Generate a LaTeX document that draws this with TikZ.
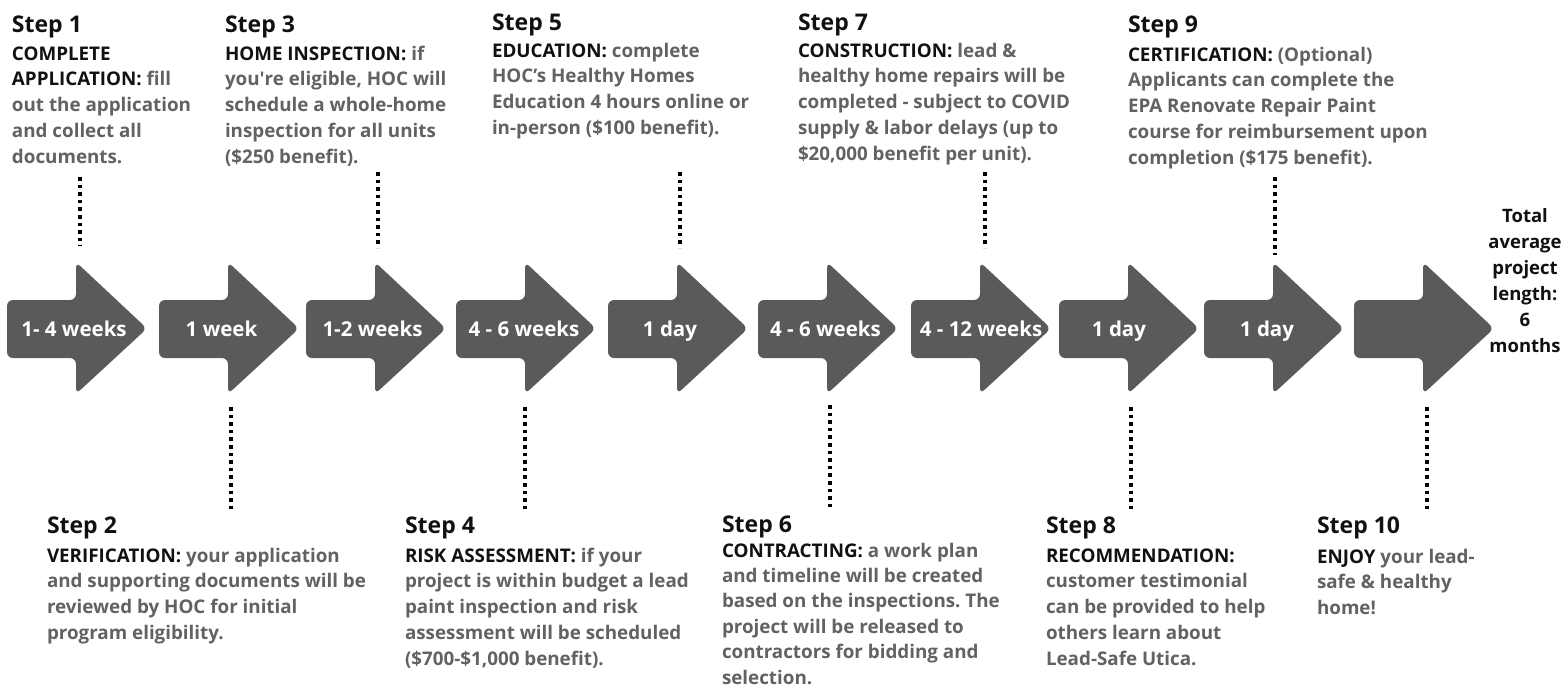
\documentclass[tikz,border=0pt]{standalone}
\usepackage{fontspec}
\setmainfont{Open Sans}
\definecolor{arrowgray}{HTML}{5A5A5A}
\definecolor{bodygray}{HTML}{626262}
\definecolor{headblack}{HTML}{111111}
\newcommand\hd[1]{\textcolor{headblack}{#1}}
\newcommand\stephead[1]{{\fontsize{23}{26}\selectfont\color{headblack}#1}}
\tikzset{
  steptext/.style={anchor=base west, inner sep=0pt, outer sep=0pt, text=bodygray,
    font=\bfseries\frenchspacing\fontsize{18.8}{25.9}\selectfont},
  arrowlabel/.style={anchor=base, inner sep=0pt, text=white,
    font=\bfseries\fontsize{20.5}{24}\selectfont},
  totaltext/.style={anchor=base, inner sep=0pt, text=headblack,
    font=\bfseries\fontsize{18.5}{26}\selectfont},
  arrowshape/.style={fill=arrowgray, rounded corners=6pt},
  dotline/.style={draw=black, line width=3.6pt, dash pattern=on 3.6pt off 4pt}
}
\begin{document}
\begin{tikzpicture}[x=1pt,y=-1pt]
\useasboundingbox (0,0) rectangle (1564,689);
\fill[white] (0,0) rectangle (1564,689);

% arrows
\foreach \L in {7,159,306,456,608,758,911,1059,1204,1354}{
  \fill[arrowshape] (\L,300) -- (\L+69,300) -- (\L+69,262) -- (\L+140,328.5)
     -- (\L+69,394) -- (\L+69,358) -- (\L,358) -- cycle;
}
\node[arrowlabel] (a1) at (74,336) {1- 4 weeks};
\node[arrowlabel] (a2) at (221.5,336) {1 week};
\node[arrowlabel] (a3) at (372.5,336) {1-2 weeks};
\node[arrowlabel] (a4) at (524,336) {4 - 6 weeks};
\node[arrowlabel] (a5) at (670,336) {1 day};
\node[arrowlabel] (a6) at (825.5,336) {4 - 6 weeks};
\node[arrowlabel] (a7) at (981,336) {4 - 12 weeks};
\node[arrowlabel] (a8) at (1119,336) {1 day};
\node[arrowlabel] (a9) at (1267,336) {1 day};

% top texts
\node[steptext] (s1) at (12,32) {\begin{tabular}[t]{@{}l@{}}\stephead{Step 1}\\[2.1pt]
\hd{COMPLETE}\\ \hd{APPLICATION:} fill\\ out the application\\ and collect all\\ documents.\end{tabular}};
\node[steptext] (s3) at (225,32) {\begin{tabular}[t]{@{}l@{}}\stephead{Step 3}\\[2.1pt]
\hd{HOME INSPECTION:} if\\ you\textquotesingle re eligible, HOC will\\ schedule a whole-home\\ inspection for all units\\ (\$250 benefit).\end{tabular}};
\node[steptext] (s5) at (492,30) {\begin{tabular}[t]{@{}l@{}}\stephead{Step 5}\\[1.1pt]
\hd{EDUCATION:} complete\\ HOC’s Healthy Homes\\ Education 4 hours online or\\ in-person (\$100 benefit).\end{tabular}};
\node[steptext] (s7) at (798,30) {\begin{tabular}[t]{@{}l@{}}\stephead{Step 7}\\[1.1pt]
\hd{CONSTRUCTION:} lead \&\\ healthy home repairs will be\\ completed - subject to COVID\\ supply \& labor delays (up to\\ \$20,000 benefit per unit).\end{tabular}};
\node[steptext] (s9) at (1128,32) {\begin{tabular}[t]{@{}l@{}}\stephead{Step 9}\\[3.1pt]
\hd{CERTIFICATION:} (Optional)\\ Applicants can complete the\\ EPA Renovate Repair Paint\\ course for reimbursement upon\\ completion (\$175 benefit).\end{tabular}};

% bottom texts
\node[steptext] (s2) at (47,533) {\begin{tabular}[t]{@{}l@{}}\stephead{Step 2}\\[3.1pt]
\hd{VERIFICATION:} your application\\ and supporting documents will be\\ reviewed by HOC for initial\\ program eligibility.\end{tabular}};
\node[steptext] (s4) at (405,533) {\begin{tabular}[t]{@{}l@{}}\stephead{Step 4}\\[3.1pt]
\hd{RISK ASSESSMENT:} if your\\ project is within budget a lead\\ paint inspection and risk\\ assessment will be scheduled\\ (\$700-\$1,000 benefit).\end{tabular}};
\node[steptext, font=\bfseries\frenchspacing\fontsize{18.8}{25.4}\selectfont] (s6) at (722,532)
{\begin{tabular}[t]{@{}l@{}}\stephead{Step 6}\\[-0.4pt]
\hd{CONTRACTING:} a work plan\\ and timeline will be created\\ based on the inspections. The\\ project will be released to\\ contractors for bidding and\\ selection.\end{tabular}};
\node[steptext] (s8) at (1046,533) {\begin{tabular}[t]{@{}l@{}}\stephead{Step 8}\\[3.1pt]
\hd{RECOMMENDATION:}\\ customer testimonial\\ can be provided to help\\ others learn about\\ Lead-Safe Utica.\end{tabular}};
\node[steptext] (s10) at (1317,533) {\begin{tabular}[t]{@{}l@{}}\stephead{Step 10}\\[4.1pt]
\hd{ENJOY} your lead-\\ safe \& healthy\\ home!\end{tabular}};

% total
\node[totaltext] (tot) at (1525,222) {\begin{tabular}[t]{@{}c@{}}Total\\ average\\ project\\ length:\\ 6\\ months\end{tabular}};

% dotted connectors
\coordinate (t1a) at (80,177);   \coordinate (t1b) at (80,246);
\coordinate (t3a) at (378,172);  \coordinate (t3b) at (378,248);
\coordinate (t5a) at (680,172);  \coordinate (t5b) at (680,248);
\coordinate (t7a) at (985,172);  \coordinate (t7b) at (985,248);
\coordinate (t9a) at (1275,177); \coordinate (t9b) at (1275,255);
\coordinate (b2a) at (231,407);  \coordinate (b2b) at (231,512);
\coordinate (b4a) at (525,407);  \coordinate (b4b) at (525,512);
\coordinate (b6a) at (830,405);  \coordinate (b6b) at (830,509);
\coordinate (b8a) at (1131,407); \coordinate (b8b) at (1131,513);
\coordinate (b10a) at (1427,407); \coordinate (b10b) at (1427,513);
\foreach \p in {t1,t3,t5,t7,t9,b2,b4,b6,b8,b10}{
  \draw[dotline] (\p a) -- (\p b);
}
\end{tikzpicture}
\end{document}
